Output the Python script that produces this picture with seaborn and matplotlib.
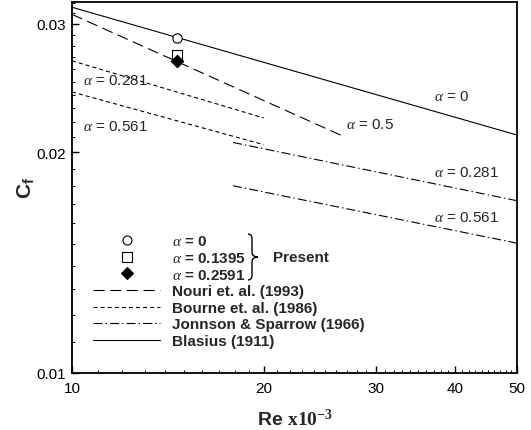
import matplotlib
matplotlib.use('Agg')
import numpy as np
import pandas as pd
import seaborn as sns
import matplotlib.pyplot as plt
from matplotlib.lines import Line2D
from matplotlib.path import Path
from matplotlib.patches import PathPatch
from matplotlib.ticker import FixedLocator, MultipleLocator, FuncFormatter, NullFormatter

# ---------------- data ----------------
blasius_re = [10, 50]
blasius_cf = [0.0316, 0.02113]

nouri_re = [10, 26.5]
nouri_cf = [0.0309, 0.0211]

bourne_re = [10, 20]
bourne_cf_a0281 = [0.0267, 0.0223]
bourne_cf_a0561 = [0.0242, 0.0205]

jonnson_re = [17.9, 50]
jonnson_cf_a0281 = [0.02064, 0.01718]
jonnson_cf_a0561 = [0.01801, 0.01503]

present_re = [14.6, 14.6, 14.6]
present_cf = [0.0287, 0.0272, 0.0267]
present_alpha = ['0', '0.1395', '0.2591']

x_major = [10, 20, 30, 40, 50]
y_major = [0.01, 0.02, 0.03]

legend_names = ['Nouri et. al. (1993)', 'Bourne et. al. (1986)',
                'Jonnson & Sparrow (1966)', 'Blasius (1911)']

# ---------------- style ----------------
sns.set_style('ticks')
plt.rcParams['font.family'] = ['Liberation Sans', 'DejaVu Sans']
plt.rcParams['mathtext.fontset'] = 'custom'
plt.rcParams['mathtext.rm'] = 'Liberation Serif:bold'
plt.rcParams['mathtext.it'] = 'Liberation Serif:italic'
plt.rcParams['mathtext.bf'] = 'Liberation Sans:bold'
plt.rcParams['mathtext.sf'] = 'Liberation Sans'
plt.rcParams['lines.scale_dashes'] = False

W, H = 531, 431
fig = plt.figure(figsize=(W / 100, H / 100), dpi=100)
AX_L, AX_R, AX_T, AX_B = 72, 517, 3.3, 373.5
ax = fig.add_axes([AX_L / W, 1 - AX_B / H, (AX_R - AX_L) / W, (AX_B - AX_T) / H])
ax.set_xscale('log')
ax.set_yscale('log')

LW = 0.8
nouri_ls = (0, (8.0, 4.0))
bourne_ls = (0, (2.9, 2.2))
jonn_ls = (0, (6.5, 2.2, 1.0, 2.2))

sns.lineplot(x=blasius_re, y=blasius_cf, ax=ax, color='black', lw=LW, linestyle='-')
sns.lineplot(x=nouri_re, y=nouri_cf, ax=ax, color='black', lw=LW, linestyle=nouri_ls)
sns.lineplot(x=bourne_re, y=bourne_cf_a0281, ax=ax, color='black', lw=LW, linestyle=bourne_ls)
sns.lineplot(x=bourne_re, y=bourne_cf_a0561, ax=ax, color='black', lw=LW, linestyle=bourne_ls)
sns.lineplot(x=jonnson_re, y=jonnson_cf_a0281, ax=ax, color='black', lw=LW, linestyle=jonn_ls)
sns.lineplot(x=jonnson_re, y=jonnson_cf_a0561, ax=ax, color='black', lw=LW, linestyle=jonn_ls)

markers = ['o', 's', 'D']
faces = ['white', 'white', 'black']
sizes = [45, 42, 40]
for xr, yc, m, fc, s in zip(present_re, present_cf, markers, faces, sizes):
    sns.scatterplot(x=[xr], y=[yc], ax=ax, marker=m, s=s, facecolor=fc,
                    edgecolor='black', linewidth=0.8, zorder=5)

ax.set_xlim(10, 50)
ax.set_ylim(0.01, 0.0321)

# ---------------- ticks ----------------
ax.xaxis.set_major_locator(FixedLocator(x_major))
ax.xaxis.set_major_formatter(FuncFormatter(lambda v, p: f'{v:g}'))
ax.xaxis.set_minor_locator(MultipleLocator(1))
ax.xaxis.set_minor_formatter(NullFormatter())
ax.yaxis.set_major_locator(FixedLocator(y_major))
ax.yaxis.set_major_formatter(FuncFormatter(lambda v, p: f'{v:.2f}'))
ax.yaxis.set_minor_locator(MultipleLocator(0.001))
ax.yaxis.set_minor_formatter(NullFormatter())
ax.tick_params(which='both', direction='in', top=False, right=False, colors='black')
ax.tick_params(which='major', length=5, width=1.0, labelsize=11)
ax.tick_params(axis='y', which='major', pad=4.5)
ax.tick_params(axis='x', which='major', pad=6)
ax.tick_params(which='minor', length=2.5, width=0.7)
for sp in ax.spines.values():
    sp.set_color('black')
    sp.set_linewidth(1.3)

ax.set_ylabel(r'$\mathbf{C_f}$', fontsize=15, labelpad=-0.5)
ax.set_xlabel(r'Re $\mathrm{x10^{-3}}$', fontsize=14, fontweight='bold', labelpad=9.5)

# ---------------- curve annotations ----------------
ann = [(39.5, 0.0239, '0'), (29.4, 0.02186, '0.5'),
       (41.6, 0.01878, '0.281'), (41.6, 0.0163, '0.561'),
       (11.68, 0.02511, '0.281'), (11.68, 0.02175, '0.561')]
for xa, ya, t in ann:
    ax.text(xa, ya, r'$\alpha$ = ' + t, ha='center', va='center', fontsize=11)

# ---------------- legend ----------------
def px2ax(px, py):
    return ((px - AX_L) / (AX_R - AX_L), (AX_B - py) / (AX_B - AX_T))

handles = [Line2D([], [], marker=m, ls='none', mfc=fc, mec='black', ms=6.5, mew=0.8)
           for m, fc in zip(markers, faces)]
handles += [Line2D([], [], color='black', lw=LW, ls=nouri_ls),
            Line2D([], [], color='black', lw=LW, ls=bourne_ls),
            Line2D([], [], color='black', lw=LW, ls=jonn_ls),
            Line2D([], [], color='black', lw=LW, ls='-')]
labels = [r'$\alpha$ = ' + a for a in present_alpha] + legend_names
ax.legend(handles, labels, loc='upper left', bbox_to_anchor=px2ax(93, 235.5),
          frameon=False, prop={'weight': 'bold', 'size': 11},
          handlelength=4.4, handletextpad=0.8, labelspacing=0.17,
          borderpad=0, borderaxespad=0)

# brace and "Present"
bpts = [(248, 235), (252, 235.5), (252, 238), (252, 241), (252, 253),
        (252, 256), (254, 258), (258, 258),
        (254, 258), (252, 260), (252, 263), (252, 275),
        (252, 278), (252, 280.5), (248, 281)]
codes = [Path.MOVETO, Path.CURVE4, Path.CURVE4, Path.CURVE4, Path.LINETO,
         Path.CURVE4, Path.CURVE4, Path.CURVE4,
         Path.CURVE4, Path.CURVE4, Path.CURVE4, Path.LINETO,
         Path.CURVE4, Path.CURVE4, Path.CURVE4]
brace = PathPatch(Path([px2ax(*p) for p in bpts], codes), transform=ax.transAxes,
                  fill=False, lw=1.0, color='black')
ax.add_patch(brace)
ax.text(*px2ax(272.7, 258), 'Present', transform=ax.transAxes, ha='left', va='center',
        fontsize=11, fontweight='bold')

fig.savefig('out.png', dpi=100)
